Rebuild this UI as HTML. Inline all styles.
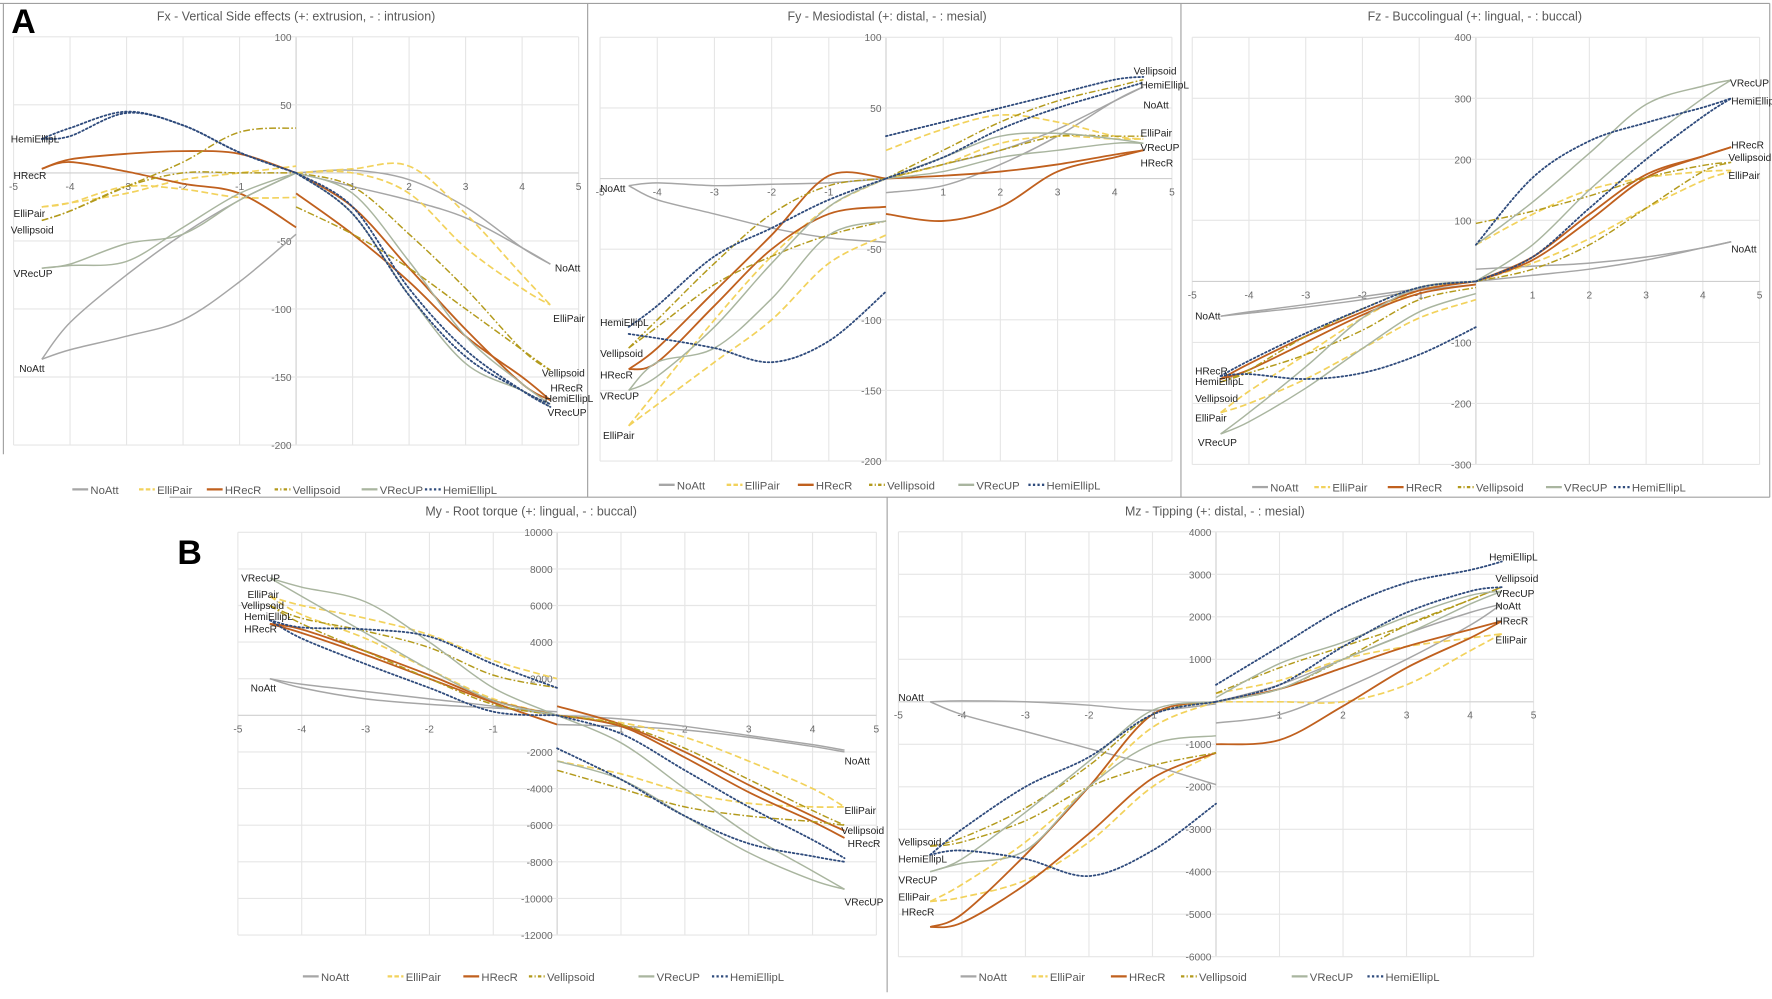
<!DOCTYPE html>
<html><head><meta charset="utf-8">
<style>
html,body{margin:0;padding:0;background:#fff;}
svg{display:block;font-family:"Liberation Sans",sans-serif;}
</style></head>
<body>
<svg id="fig" width="1772" height="999" viewBox="0 0 1568 884" preserveAspectRatio="none" xmlns="http://www.w3.org/2000/svg">
<rect x="0" y="0" width="1568" height="884" fill="#fff"/>
<g stroke="#a0a0a0" stroke-width="1">
<line x1="0" y1="3" x2="1566" y2="3"/>
<line x1="3" y1="3" x2="3" y2="402"/>
<line x1="520" y1="3" x2="520" y2="440"/>
<line x1="1045" y1="3" x2="1045" y2="440"/>
<line x1="1566" y1="3" x2="1566" y2="440"/>
<line x1="150" y1="440" x2="1566" y2="440"/>
<line x1="785" y1="440" x2="785" y2="878"/>
</g>
<text x="10" y="29" font-size="30" font-weight="bold" fill="#000">A</text>
<text x="157" y="499" font-size="30" font-weight="bold" fill="#000">B</text>
</svg>
<script>
const seriesNames = ["NoAtt","ElliPair","HRecR","Vellipsoid","VRecUP","HemiEllipL"];
const xsLeft = [-4.5,-4,-3,-2,-1,0];
const xsRight = [0,1,2,3,4,4.5];

// Fx
const fxL1 = [[-137,-130,-120,-108,-80,-45],[-25,-22,-10,-12,-18,-18],[3,10,14,16,14,0],[-35,-28,-10,8,30,33],[-70,-67,-52,-45,-20,0],[25,33,45,35,15,0]];
const fxL2 = [[-137,-110,-75,-45,-20,0],[-25,-22,-15,-5,0,5],[3,8,1,-8,-15,-40],[-35,-28,-10,0,0,0],[-70,-68,-65,-40,-15,0],[25,27,44,35,15,0]];
const fxR1 = [[0,2,-5,-25,-55,-67],[0,3,5,-30,-75,-97],[0,-25,-70,-115,-155,-167],[0,-10,-45,-85,-130,-145],[0,-15,-65,-120,-155,-170],[0,-30,-90,-135,-160,-170]];
const fxR2 = [[0,-10,-20,-33,-55,-67],[0,0,-15,-55,-85,-97],[-15,-45,-80,-120,-150,-167],[-25,-45,-70,-100,-130,-145],[0,-30,-90,-140,-160,-172],[0,-25,-85,-130,-160,-172]];
const fxLabels = [["HemiEllipL",-5.05,25],["HRecR",-5.0,-2],["ElliPair",-5.0,-30],["Vellipsoid",-5.05,-42],["VRecUP",-5.0,-74],["NoAtt",-4.9,-144],["NoAtt",4.58,-70],["ElliPair",4.55,-107],["Vellipsoid",4.35,-147],["HRecR",4.5,-158],["HemiEllipL",4.4,-166],["VRecUP",4.45,-176]];
const fxYTicks = [100,50,-50,-100,-150,-200];
const fxXTicks = [-5,-4,-3,-2,-1,1,2,3,4,5];

// Fy
const fyL1 = [[-5,-3,-5,-4,-3,0],[-175,-160,-130,-100,-60,-40],[-135,-120,-80,-40,2,0],[-120,-105,-75,-55,-40,-30],[-150,-140,-105,-60,-20,0],[-105,-90,-55,-35,-15,0]];
const fyL2 = [[-5,-15,-25,-35,-42,-45],[-175,-150,-100,-55,-20,0],[-135,-130,-90,-50,-25,-20],[-120,-100,-60,-25,-5,0],[-150,-130,-120,-85,-40,-30],[-110,-113,-120,-130,-115,-80]];
const fyR1 = [[0,10,20,35,55,65],[20,35,45,40,30,28],[0,2,5,10,17,20],[0,20,40,55,65,70],[0,15,30,32,28,25],[30,40,50,60,70,72]];
const fyR2 = [[-10,-5,10,30,55,65],[0,10,25,30,28,28],[-25,-30,-20,5,15,20],[0,10,20,30,30,30],[0,5,15,20,25,25],[0,15,35,50,62,68]];
const fyLabels = [["NoAtt",-5.0,-7],["HemiEllipL",-5.0,-102],["Vellipsoid",-5.0,-124],["HRecR",-5.0,-139],["VRecUP",-5.0,-154],["ElliPair",-4.95,-182],["Vellipsoid",4.33,76],["HemiEllipL",4.45,66],["NoAtt",4.5,52],["ElliPair",4.45,32],["VRecUP",4.45,22],["HRecR",4.45,11]];
const fyYTicks = [100,50,-50,-100,-150,-200];
const fyXTicks = [-5,-4,-3,-2,-1,1,2,3,4,5];

// Fz
const fzL1 = [[-57,-50,-38,-25,-12,0],[-215,-180,-120,-60,-15,0],[-160,-135,-90,-50,-15,0],[-165,-150,-120,-80,-30,-10],[-250,-215,-140,-60,-10,0],[-155,-130,-85,-45,-10,0]];
const fzL2 = [[-57,-52,-42,-30,-15,-5],[-215,-200,-160,-110,-60,-30],[-160,-145,-100,-55,-20,-5],[-165,-145,-90,-45,-10,0],[-250,-230,-175,-110,-50,-20],[-155,-152,-160,-150,-120,-75]];
const fzR1 = [[20,25,30,40,55,65],[60,110,150,170,180,182],[0,40,110,175,205,220],[95,115,140,170,190,195],[60,130,210,290,320,330],[60,170,230,260,285,300]];
const fzR2 = [[0,10,20,35,55,65],[0,30,70,120,165,180],[0,35,100,170,205,220],[0,20,60,120,180,195],[0,60,150,230,300,330],[0,40,120,200,270,300]];
const fzLabels = [["NoAtt",-4.95,-57],["HRecR",-4.95,-147],["HemiEllipL",-4.95,-164],["Vellipsoid",-4.95,-192],["ElliPair",-4.95,-224],["VRecUP",-4.9,-264],["VRecUP",4.48,325],["HemiEllipL",4.5,295],["HRecR",4.5,223],["Vellipsoid",4.45,203],["ElliPair",4.45,173],["NoAtt",4.5,53]];
const fzYTicks = [400,300,200,100,-100,-200,-300];
const fzXTicks = [-5,-4,-3,-2,-1,1,2,3,4,5];

// My
const myL1 = [[2000,1700,1300,900,500,0],[6500,6000,5300,4400,3000,2000],[5000,4500,3300,2000,700,-500],[6000,5300,4600,3700,2200,1500],[7500,7000,6200,4000,1500,0],[5200,4800,4700,4300,2800,1500]];
const myL2 = [[2000,1500,900,600,400,200],[6500,5500,4200,2500,900,0],[5000,4700,3500,2200,800,0],[6000,5000,3500,2000,600,0],[7500,6500,4500,2500,800,0],[5200,4200,2800,1500,200,0]];
const myR1 = [[-500,-600,-800,-1200,-1700,-2000],[0,-400,-1200,-2500,-4000,-5000],[500,-500,-2000,-3800,-5500,-6300],[0,-500,-1800,-3500,-5200,-6000],[-2500,-3500,-5500,-7500,-9000,-9500],[0,-1000,-3000,-5000,-6800,-7800]];
const myR2 = [[0,-200,-600,-1100,-1600,-1900],[-2500,-3200,-4200,-4800,-5000,-5000],[0,-600,-2300,-4200,-5800,-6700],[-3000,-4000,-5000,-5500,-5800,-6000],[0,-1500,-4000,-6500,-8500,-9500],[-1800,-3500,-5500,-7000,-7700,-8000]];
const myLabels = [["VRecUP",-4.95,7500],["ElliPair",-4.85,6600],["Vellipsoid",-4.95,6000],["HemiEllipL",-4.9,5400],["HRecR",-4.9,4700],["NoAtt",-4.8,1500],["NoAtt",4.5,-2500],["ElliPair",4.5,-5200],["Vellipsoid",4.45,-6300],["HRecR",4.55,-7000],["VRecUP",4.5,-10200]];
const myYTicks = [10000,8000,6000,4000,2000,-2000,-4000,-6000,-8000,-10000,-12000];
const myXTicks = [-5,-4,-3,-2,-1,1,2,3,4,5];

// Mz
const mzL1 = [[0,20,0,-80,-200,-50],[-4700,-4300,-3300,-2000,-600,0],[-5300,-5000,-3600,-2000,-300,0],[-3400,-3200,-2500,-1500,-300,0],[-4000,-3700,-2600,-1400,-200,0],[-3600,-3000,-2000,-1300,-300,0]];
const mzL2 = [[0,-300,-700,-1100,-1500,-1950],[-4700,-4600,-4200,-3300,-2000,-1200],[-5300,-5200,-4300,-3100,-1800,-1200],[-3400,-3300,-2800,-2000,-1500,-1200],[-4000,-3800,-3500,-2000,-1000,-800],[-3600,-3500,-3700,-4100,-3500,-2400]];
const mzR1 = [[0,400,1000,1600,2100,2300],[200,500,1000,1300,1500,1600],[0,300,800,1300,1700,1900],[0,300,1000,1800,2400,2700],[100,900,1400,2000,2500,2600],[400,1300,2200,2800,3100,3300]];
const mzR2 = [[-500,-300,300,1000,1800,2300],[0,0,0,400,1200,1600],[-1000,-900,-100,800,1500,1900],[200,800,1300,1800,2400,2700],[0,300,1000,1600,2300,2600],[0,400,1300,2100,2600,2700]];
const mzLabels = [["NoAtt",-5.0,100],["Vellipsoid",-5.0,-3300],["HemiEllipL",-5.0,-3700],["VRecUP",-5.0,-4200],["ElliPair",-5.0,-4600],["HRecR",-4.95,-4950],["HemiEllipL",4.3,3400],["Vellipsoid",4.4,2900],["VRecUP",4.4,2550],["NoAtt",4.4,2250],["HRecR",4.4,1900],["ElliPair",4.4,1450]];
const mzYTicks = [4000,3000,2000,1000,-1000,-2000,-3000,-4000,-5000,-6000];
const mzXTicks = [-5,-4,-3,-2,-1,1,2,3,4,5];

const styles = [
 {c:"#a6a6a6",w:1.3,d:""},
 {c:"#f2d25c",w:1.5,d:"6,3"},
 {c:"#c0601e",w:1.6,d:""},
 {c:"#b39a1c",w:1.3,d:"6,2,1.5,2"},
 {c:"#a9b59f",w:1.3,d:""},
 {c:"#2f4b7c",w:1.6,d:"1.5,2.2"}
];
const NS="http://www.w3.org/2000/svg";
const svg=document.getElementById('fig');
function mk(tag,attrs,parent){const e=document.createElementNS(NS,tag);for(const k in attrs)e.setAttribute(k,attrs[k]);(parent||svg).appendChild(e);return e;}
function smooth(pts){let d="M"+pts[0][0].toFixed(1)+","+pts[0][1].toFixed(1);
 for(let i=0;i<pts.length-1;i++){const p0=pts[Math.max(0,i-1)],p1=pts[i],p2=pts[i+1],p3=pts[Math.min(pts.length-1,i+2)];
 const c1=[p1[0]+(p2[0]-p0[0])/6,p1[1]+(p2[1]-p0[1])/6],c2=[p2[0]-(p3[0]-p1[0])/6,p2[1]-(p3[1]-p1[1])/6];
 d+=" C"+c1[0].toFixed(1)+","+c1[1].toFixed(1)+" "+c2[0].toFixed(1)+","+c2[1].toFixed(1)+" "+p2[0].toFixed(1)+","+p2[1].toFixed(1);}
 return d;}

function chart(cfg){
 const g=mk('g',{});
 
 
 const sx=v=>cfg.x0+v*cfg.px;
 const sy=v=>cfg.y0-v*cfg.py;
 const t=mk('text',{x:cfg.tx,y:cfg.ty,'font-size':11,fill:'#595959','text-anchor':'middle'},g);
 t.textContent=cfg.title;
 
 
 const yt=cfg.yTicks, ymax=Math.max(...yt), ymin=Math.min(...yt);
 for(let v=-5;v<=5;v++){
  const gl=mk('line',{x1:sx(v),x2:sx(v),y1:sy(ymax),y2:sy(ymin),stroke:v===0?'#cfcfcf':'#e6e6e6','stroke-width':1},g);
  
  
 }
 const allY=[...yt,0];
 allY.forEach(v=>{
  const gl=mk('line',{x1:sx(-5),x2:sx(5),y1:sy(v),y2:sy(v),stroke:v===0?'#cfcfcf':'#e6e6e6','stroke-width':1},g);
  
  
 });
 yt.forEach(v=>{
  const l=mk('text',{x:sx(0)-4,y:sy(v)+3.5,'font-size':9,fill:'#6b6b6b','text-anchor':'end'},g);
  l.textContent=v;
  
  
 });
 cfg.xTicks.forEach(v=>{
  const l=mk('text',{x:sx(v),y:sy(0)+15,'font-size':9,fill:'#6b6b6b','text-anchor':'middle'},g);
  l.textContent=v;
  
  
 });
 for(let s=0;s<6;s++){
  const st=styles[s];
  [[xsLeft,cfg.L1[s]],[xsLeft,cfg.L2[s]],[xsRight,cfg.R1[s]],[xsRight,cfg.R2[s]]].forEach(([xs,ys])=>{
   const pts=xs.map((x,i)=>[sx(x),sy(ys[i])]);
   const p=mk('path',{d:smooth(pts),fill:'none',stroke:st.c,'stroke-width':st.w,'stroke-dasharray':st.d,'stroke-linecap':s===5?'round':'butt'},g);
   
   
  });
 }
 cfg.labels.forEach(([n,x,y])=>{
  const l=mk('text',{x:sx(x),y:sy(y)+3,'font-size':9,fill:'#222'},g);
  l.textContent=n;
  
  
 });
 const lg=mk('g',{},g);
 
 
 cfg.legX.forEach((lx,s)=>{
  const st=styles[s];
  const e=mk('g',{},lg);
  
  
  mk('line',{x1:lx,x2:lx+14,y1:cfg.legY-3,y2:cfg.legY-3,stroke:st.c,'stroke-width':2,'stroke-dasharray':s===0||s===2||s===4?'':(s===5?'2,2':(s===3?'3,2,1,2':'4,2'))},e);
  const tx=mk('text',{x:lx+16,y:cfg.legY+1,'font-size':10,fill:'#595959'},e);
  tx.textContent=seriesNames[s];
 });
}

chart({name:'fx-chart',title:'Fx - Vertical Side effects (+: extrusion, - : intrusion)',tx:262,ty:18,x0:262,px:50,y0:153,py:1.204,
 yTicks:fxYTicks,xTicks:fxXTicks,L1:fxL1,L2:fxL2,R1:fxR1,R2:fxR2,labels:fxLabels,legY:436,legX:[64,123,183,243,320,376]});
chart({name:'fy-chart',title:'Fy - Mesiodistal (+: distal, - : mesial)',tx:785,ty:18,x0:784,px:50.6,y0:158,py:1.25,
 yTicks:fyYTicks,xTicks:fyXTicks,L1:fyL1,L2:fyL2,R1:fyR1,R2:fyR2,labels:fyLabels,legY:432,legX:[583,643,706,769,848,910]});
chart({name:'fz-chart',title:'Fz - Buccolingual (+: lingual, - : buccal)',tx:1305,ty:18,x0:1306,px:50.2,y0:249,py:0.54,
 yTicks:fzYTicks,xTicks:fzXTicks,L1:fzL1,L2:fzL2,R1:fzR1,R2:fzR2,labels:fzLabels,legY:434,legX:[1108,1163,1228,1290,1368,1428]});
chart({name:'my-chart',title:'My - Root torque (+: lingual, - : buccal)',tx:470,ty:456,x0:493,px:56.5,y0:633,py:0.0162,
 yTicks:myYTicks,xTicks:myXTicks,L1:myL1,L2:myL2,R1:myR1,R2:myR2,labels:myLabels,legY:867,legX:[268,343,410,468,565,630]});
chart({name:'mz-chart',title:'Mz - Tipping (+: distal, - : mesial)',tx:1075,ty:456,x0:1076,px:56.2,y0:621,py:0.0376,
 yTicks:mzYTicks,xTicks:mzXTicks,L1:mzL1,L2:mzL2,R1:mzR1,R2:mzR2,labels:mzLabels,legY:867,legX:[850,913,983,1045,1143,1210]});
</script>
</body></html>
